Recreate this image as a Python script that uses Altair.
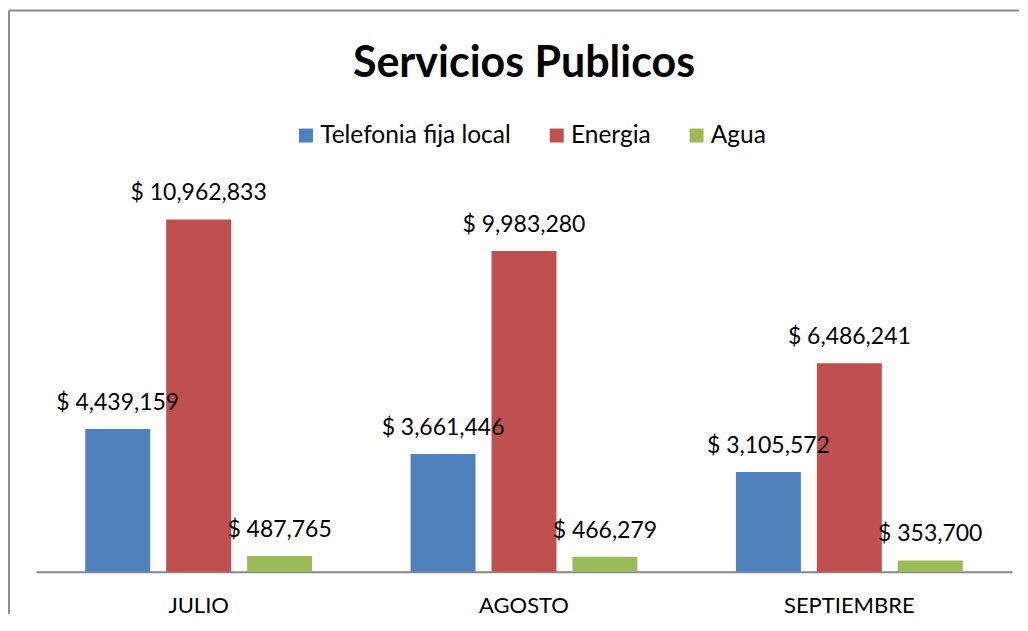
import altair as alt
import pandas as pd

months = ["JULIO", "AGOSTO", "SEPTIEMBRE"]
series = ["Telefonia fija local", "Energia", "Agua"]
telefonia = [4439159, 3661446, 3105572]
energia = [10962833, 9983280, 6486241]
agua = [487765, 466279, 353700]
colors = ["#4F81BD", "#C0504D", "#9BBB59"]
title_text = "Servicios Publicos"

rows = []
for i, m in enumerate(months):
    for s, vals in zip(series, [telefonia, energia, agua]):
        rows.append({"mes": m, "servicio": s, "valor": vals[i]})
df = pd.DataFrame(rows)

W = 977
H = 386
FONT = "Lato"
FRAME = "#8c8c8c"

base = alt.Chart(df).encode(
    x=alt.X(
        "mes:N",
        sort=months,
        scale=alt.Scale(paddingInner=0, paddingOuter=0),
        axis=alt.Axis(
            title=None,
            labelAngle=0,
            ticks=False,
            labelPadding=41,
            labelBaseline="alphabetic",
            labelFont=FONT,
            labelFontSize=22,
            labelColor="black",
            domainColor="#868686",
            domainWidth=2,
            grid=False,
        ),
    ),
    xOffset=alt.XOffset(
        "servicio:N",
        sort=series,
        scale=alt.Scale(paddingInner=0.1975, paddingOuter=0.609),
    ),
    y=alt.Y("valor:Q", scale=alt.Scale(domain=[0, 12000000]), axis=None),
)

bars = base.mark_bar().encode(
    color=alt.Color(
        "servicio:N",
        sort=series,
        scale=alt.Scale(domain=series, range=colors),
        legend=alt.Legend(
            title=None,
            orient="none",
            direction="horizontal",
            legendX=258,
            legendY=-63,
            symbolType="square",
            symbolSize=196,
            symbolStrokeWidth=0,
            labelFont=FONT,
            labelFontSize=24.5,
            labelColor="black",
            labelOffset=2,
            labelLimit=0,
            columnPadding=33,
            padding=0,
        ),
    )
)

labels = (
    base.mark_text(font=FONT, fontSize=23, baseline="alphabetic", dy=-19, color="black")
    .transform_calculate(lbl="'$ ' + format(datum.valor, ',')")
    .encode(text="lbl:N")
)

one = pd.DataFrame({"t": [title_text]})
title = alt.Chart(one).mark_text(
    font=FONT, fontSize=43, fontWeight="bold", baseline="alphabetic", align="center", color="black"
).encode(text="t:N", x=alt.value(W / 2), y=alt.value(-109))

frame_top = alt.Chart(one).mark_rule(color=FRAME, strokeWidth=2).encode(
    x=alt.value(-27), x2=alt.value(984), y=alt.value(-175.7)
)
frame_left = alt.Chart(one).mark_rule(color=FRAME, strokeWidth=2).encode(
    x=alt.value(-27), y=alt.value(-175.7), y2=alt.value(428)
)

chart = (
    alt.layer(frame_top, frame_left, title, bars, labels)
    .properties(width=W, height=H, padding={"left": 0, "top": 1, "right": 0, "bottom": 0}, background="white")
    .configure_view(stroke=None)
)

chart.save("out.html", embed_options={"renderer": "svg", "actions": False})
